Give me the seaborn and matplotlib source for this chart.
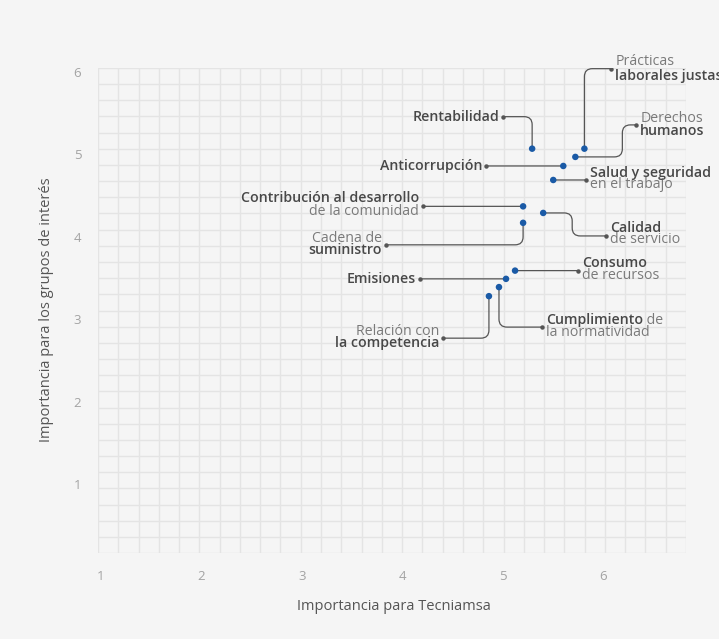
import numpy as np
import pandas as pd
import matplotlib
matplotlib.use("Agg")
import matplotlib.pyplot as plt
import matplotlib.transforms as mtransforms
import seaborn as sns

# ---------------- data ----------------
temas = ["Rentabilidad", "Prácticas laborales justas", "Derechos humanos", "Anticorrupción",
         "Salud y seguridad en el trabajo", "Contribución al desarrollo de la comunidad",
         "Calidad de servicio", "Cadena de suministro", "Consumo de recursos", "Emisiones",
         "Cumplimiento de la normatividad", "Relación con la competencia"]
imp_tecniamsa = [5.29, 5.81, 5.72, 5.60, 5.50, 5.20, 5.40, 5.20, 5.12, 5.03, 4.96, 4.86]
imp_grupos = [5.07, 5.07, 4.97, 4.86, 4.69, 4.37, 4.29, 4.17, 3.59, 3.49, 3.39, 3.28]
tick_vals = [1, 2, 3, 4, 5, 6]

# label text: list of lines, each line a list of (text, style)
label_lines = [
    [[("Rentabilidad", "b")]],
    [[("Prácticas", "l")], [("laborales justas", "b")]],
    [[("Derechos", "l")], [("humanos", "b")]],
    [[("Anticorrupción", "b")]],
    [[("Salud y seguridad", "b")], [("en el trabajo", "l")]],
    [[("Contribución al desarrollo", "b")], [("de la comunidad", "l")]],
    [[("Calidad", "b")], [("de servicio", "l")]],
    [[("Cadena de", "l")], [("suministro", "b")]],
    [[("Consumo", "b")], [("de recursos", "l")]],
    [[("Emisiones", "b")]],
    [[("Cumplimiento", "b"), (" de", "l")], [("la normatividad", "l")]],
    [[("Relación con", "l")], [("la competencia", "b")]],
]

# ---------------- layout (pixel offsets, image orientation: +y = down) ----------------
layout = [
    dict(end=(-29, -32), cs="angle,angleA=0,angleB=90,rad=8", side="r", ly=[0]),
    dict(end=(27, -80), cs="angle,angleA=0,angleB=90,rad=8", side="l", ly=[-7, 7]),
    dict(end=(61, -32), cs="arc,angleA=180,angleB=0,armA=14,armB=47,rad=8", side="l", ly=[-6, 6]),
    dict(end=(-77, 0), cs="arc3,rad=0", side="r", ly=[0]),
    dict(end=(33, 0), cs="arc3,rad=0", side="l", ly=[-7, 5]),
    dict(end=(-100, 0), cs="arc3,rad=0", side="r", ly=[-8, 5]),
    dict(end=(63, 23), cs="arc,angleA=180,angleB=0,armA=34,armB=29,rad=8", side="l", ly=[-8, 4]),
    dict(end=(-137, 22), cs="angle,angleA=0,angleB=90,rad=8", side="r", ly=[-6, 5]),
    dict(end=(63, 0), cs="arc3,rad=0", side="l", ly=[-8, 5]),
    dict(end=(-86, 0), cs="arc3,rad=0", side="r", ly=[0]),
    dict(end=(43, 40), cs="angle,angleA=0,angleB=90,rad=8", side="l", ly=[-7, 5]),
    dict(end=(-46, 42), cs="angle,angleA=0,angleB=90,rad=8", side="r", ly=[-7, 5]),
]

df = pd.DataFrame({"tema": temas, "x": imp_tecniamsa, "y": imp_grupos})

# ---------------- style ----------------
BG = "#f5f5f5"
sns.set_theme(style="white")
FONT = ["Open Sans", "DejaVu Sans"]
plt.rcParams["font.family"] = FONT

W, H = 719, 639
fig = plt.figure(figsize=(W / 100, H / 100), dpi=100, facecolor=BG)
ax = fig.add_axes([98 / W, 1 - 553 / H, 588 / W, 485 / H])
ax.set_facecolor(BG)

x0, x1 = 0.970, 6.821
y0, y1 = 0.163, 6.049
ax.set_xlim(x0, x1)
ax.set_ylim(y0, y1)

for s in ax.spines.values():
    s.set_visible(False)

ax.set_xticks(tick_vals)
ax.set_yticks(tick_vals)
ax.set_xticks(np.linspace(x0, x1, 30), minor=True)
ax.set_yticks(np.linspace(y0, y1, 31), minor=True)
ax.grid(False, which="major")
ax.grid(True, which="minor", color="#e4e4e4", lw=1.0)
ax.tick_params(which="both", length=0)
ax.tick_params(axis="x", which="major", pad=12, labelsize=9.5, labelcolor="#a3a3a3")
ax.tick_params(axis="y", which="major", pad=12, labelsize=9.5, labelcolor="#a3a3a3")
ax.set_axisbelow(True)

sns.scatterplot(data=df, x="x", y="y", ax=ax, color="#1a5aa6", s=22, edgecolor="none",
                zorder=5, legend=False)

ax.set_xlabel("Importancia para Tecniamsa", fontsize=10.5, color="#555555")
ax.set_ylabel("Importancia para los grupos de interés", fontsize=10.5, color="#555555")
ax.xaxis.set_label_coords((394 - 98) / 588, (553 - 606) / 485)
ax.xaxis.label.set_va("center")
ax.yaxis.set_label_coords((46 - 98) / 588, (553 - 310) / 485)
ax.yaxis.label.set_va("center")

LINE_C = "#555555"
BOLD_C = "#484848"
LIGHT_C = "#7a7a7a"
FS = 10.2

for i, row in df.iterrows():
    lay = layout[i]
    dx, dy = lay["end"][0], -lay["end"][1]
    ax.annotate("", xy=(row.x, row.y), xytext=(dx, dy), textcoords="offset pixels",
                arrowprops=dict(arrowstyle="-", color=LINE_C, lw=0.9, shrinkA=0, shrinkB=0,
                                connectionstyle=lay["cs"]), zorder=3)
    tr = mtransforms.offset_copy(ax.transData, fig=fig, x=dx, y=dy, units="dots")
    ax.plot([row.x], [row.y], "o", ms=2.2, color=LINE_C, transform=tr, zorder=4)
    side = lay["side"]
    tx = dx + (4 if side == "l" else -4)
    for line, ly in zip(label_lines[i], lay["ly"]):
        ty = dy - ly
        parts = list(reversed(line)) if side == "r" else line
        prev = None
        for text, st in parts:
            kw = dict(fontsize=FS, color=BOLD_C if st == "b" else LIGHT_C,
                      fontweight="semibold" if st == "b" else "normal",
                      va="center", ha="left" if side == "l" else "right", zorder=6,
                      annotation_clip=False)
            if prev is None:
                prev = ax.annotate(text, xy=(row.x, row.y), xytext=(tx, ty),
                                   textcoords="offset pixels", **kw)
            else:
                prev = ax.annotate(text, xy=(1, 0.5) if side == "l" else (0, 0.5),
                                   xycoords=prev, **kw)

fig.savefig("out.png", dpi=100, facecolor=BG)
